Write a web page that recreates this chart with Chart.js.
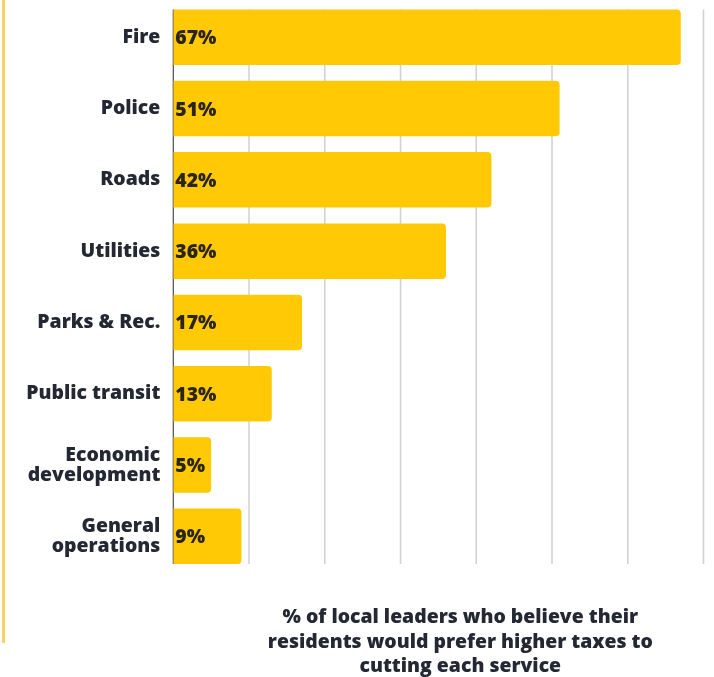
<!DOCTYPE html>
<html>
<head>
<meta charset="utf-8">
<script src="https://cdn.jsdelivr.net/npm/chart.js@4.4.1/dist/chart.umd.min.js"></script>
<style>
  html, body { margin: 0; padding: 0; background: #ffffff; }
  #wrap { position: relative; width: 714px; height: 677px; overflow: hidden; }
  #edge { position: absolute; left: 2px; top: 0; width: 3px; height: 643px; background: #f6d463; }
  canvas { position: absolute; left: 0; top: 0; }
</style>
</head>
<body>
<div id="wrap">
  <div id="edge"></div>
  <canvas id="chart" width="714" height="677"></canvas>
</div>
<script>
// Services, in display order (multi-line labels as arrays)
const categories = [
  'Fire',
  'Police',
  'Roads',
  'Utilities',
  'Parks & Rec.',
  'Public transit',
  ['Economic', 'development'],
  ['General', 'operations']
];

// Share of local leaders (%) who think residents prefer higher taxes to cuts
const shares = [67, 51, 42, 36, 17, 13, 5, 9];

// Value axis range and gridline step
const axisMin = 0;
const axisMax = 70;
const axisStep = 10;

// Axis caption, one entry per line
const captionLines = [
  '% of local leaders who believe their',
  'residents would prefer higher taxes to',
  'cutting each service'
];

const FONT = '"Open Sans", "Noto Sans", sans-serif';
const FONT_SIZE = 19.4;
const FONT_WEIGHT = 800;
const INK = '#242833';
const BAR = '#ffc905';

// Vertical gridlines limited to the span of the bars
const gridPlugin = {
  id: 'barSpanGrid',
  beforeDatasetsDraw(chart) {
    const meta = chart.getDatasetMeta(0);
    const first = meta.data[0];
    const last = meta.data[meta.data.length - 1];
    const top = first.y - first.height / 2;
    const bottom = last.y + last.height / 2;
    const x = chart.scales.x;
    const ctx = chart.ctx;
    ctx.save();
    x.ticks.forEach(t => {
      const px = x.getPixelForValue(t.value);
      ctx.beginPath();
      ctx.strokeStyle = t.value === axisMin ? '#4a4a4a' : '#d2d2d2';
      ctx.lineWidth = t.value === axisMin ? 1.2 : 1.6;
      ctx.moveTo(px, top);
      ctx.lineTo(px, bottom);
      ctx.stroke();
    });
    ctx.restore();
  }
};

// Percentage labels at the start of each bar
const valueLabelPlugin = {
  id: 'valueLabels',
  afterDatasetsDraw(chart) {
    const meta = chart.getDatasetMeta(0);
    const ctx = chart.ctx;
    ctx.save();
    ctx.font = FONT_WEIGHT + ' ' + FONT_SIZE + 'px ' + FONT;
    ctx.fillStyle = '#2b2518';
    ctx.textAlign = 'left';
    ctx.textBaseline = 'middle';
    meta.data.forEach((bar, i) => {
      ctx.fillText(shares[i] + '%', bar.base + 2, bar.y + 1.5);
    });
    ctx.restore();
  }
};

// Caption below the plot
const captionPlugin = {
  id: 'caption',
  afterDraw(chart) {
    const ctx = chart.ctx;
    const area = chart.chartArea;
    const cx = area.left + 287;
    ctx.save();
    ctx.font = FONT_WEIGHT + ' ' + FONT_SIZE + 'px ' + FONT;
    ctx.fillStyle = INK;
    ctx.textAlign = 'center';
    ctx.textBaseline = 'alphabetic';
    captionLines.forEach((line, i) => {
      ctx.fillText(line, cx, area.bottom + 51 + i * 24.5);
    });
    ctx.restore();
  }
};

new Chart(document.getElementById('chart'), {
  type: 'bar',
  data: {
    labels: categories,
    datasets: [{
      data: shares,
      backgroundColor: BAR,
      borderWidth: 0,
      borderRadius: 4,
      categoryPercentage: 1,
      barPercentage: 0.778
    }]
  },
  options: {
    indexAxis: 'y',
    responsive: false,
    animation: false,
    devicePixelRatio: 1,
    layout: { padding: { top: 1.6, right: 10.5, bottom: 105, left: 0 } },
    plugins: {
      legend: { display: false },
      tooltip: { enabled: false }
    },
    scales: {
      x: {
        min: axisMin,
        max: axisMax,
        ticks: { display: false, stepSize: axisStep },
        grid: { display: false, drawTicks: false },
        border: { display: false },
        afterFit(scale) {
          scale.height = 0;
          scale.paddingLeft = 0;
          scale.paddingRight = 0;
        }
      },
      y: {
        ticks: {
          color: INK,
          padding: 13,
          font: { family: FONT, size: FONT_SIZE, weight: FONT_WEIGHT, lineHeight: 1.03 }
        },
        grid: { display: false, drawTicks: false },
        border: { display: false },
        afterFit(scale) {
          scale.width = 173.3;
          scale.paddingTop = 0;
          scale.paddingBottom = 0;
        }
      }
    }
  },
  plugins: [gridPlugin, valueLabelPlugin, captionPlugin]
});
</script>
</body>
</html>
